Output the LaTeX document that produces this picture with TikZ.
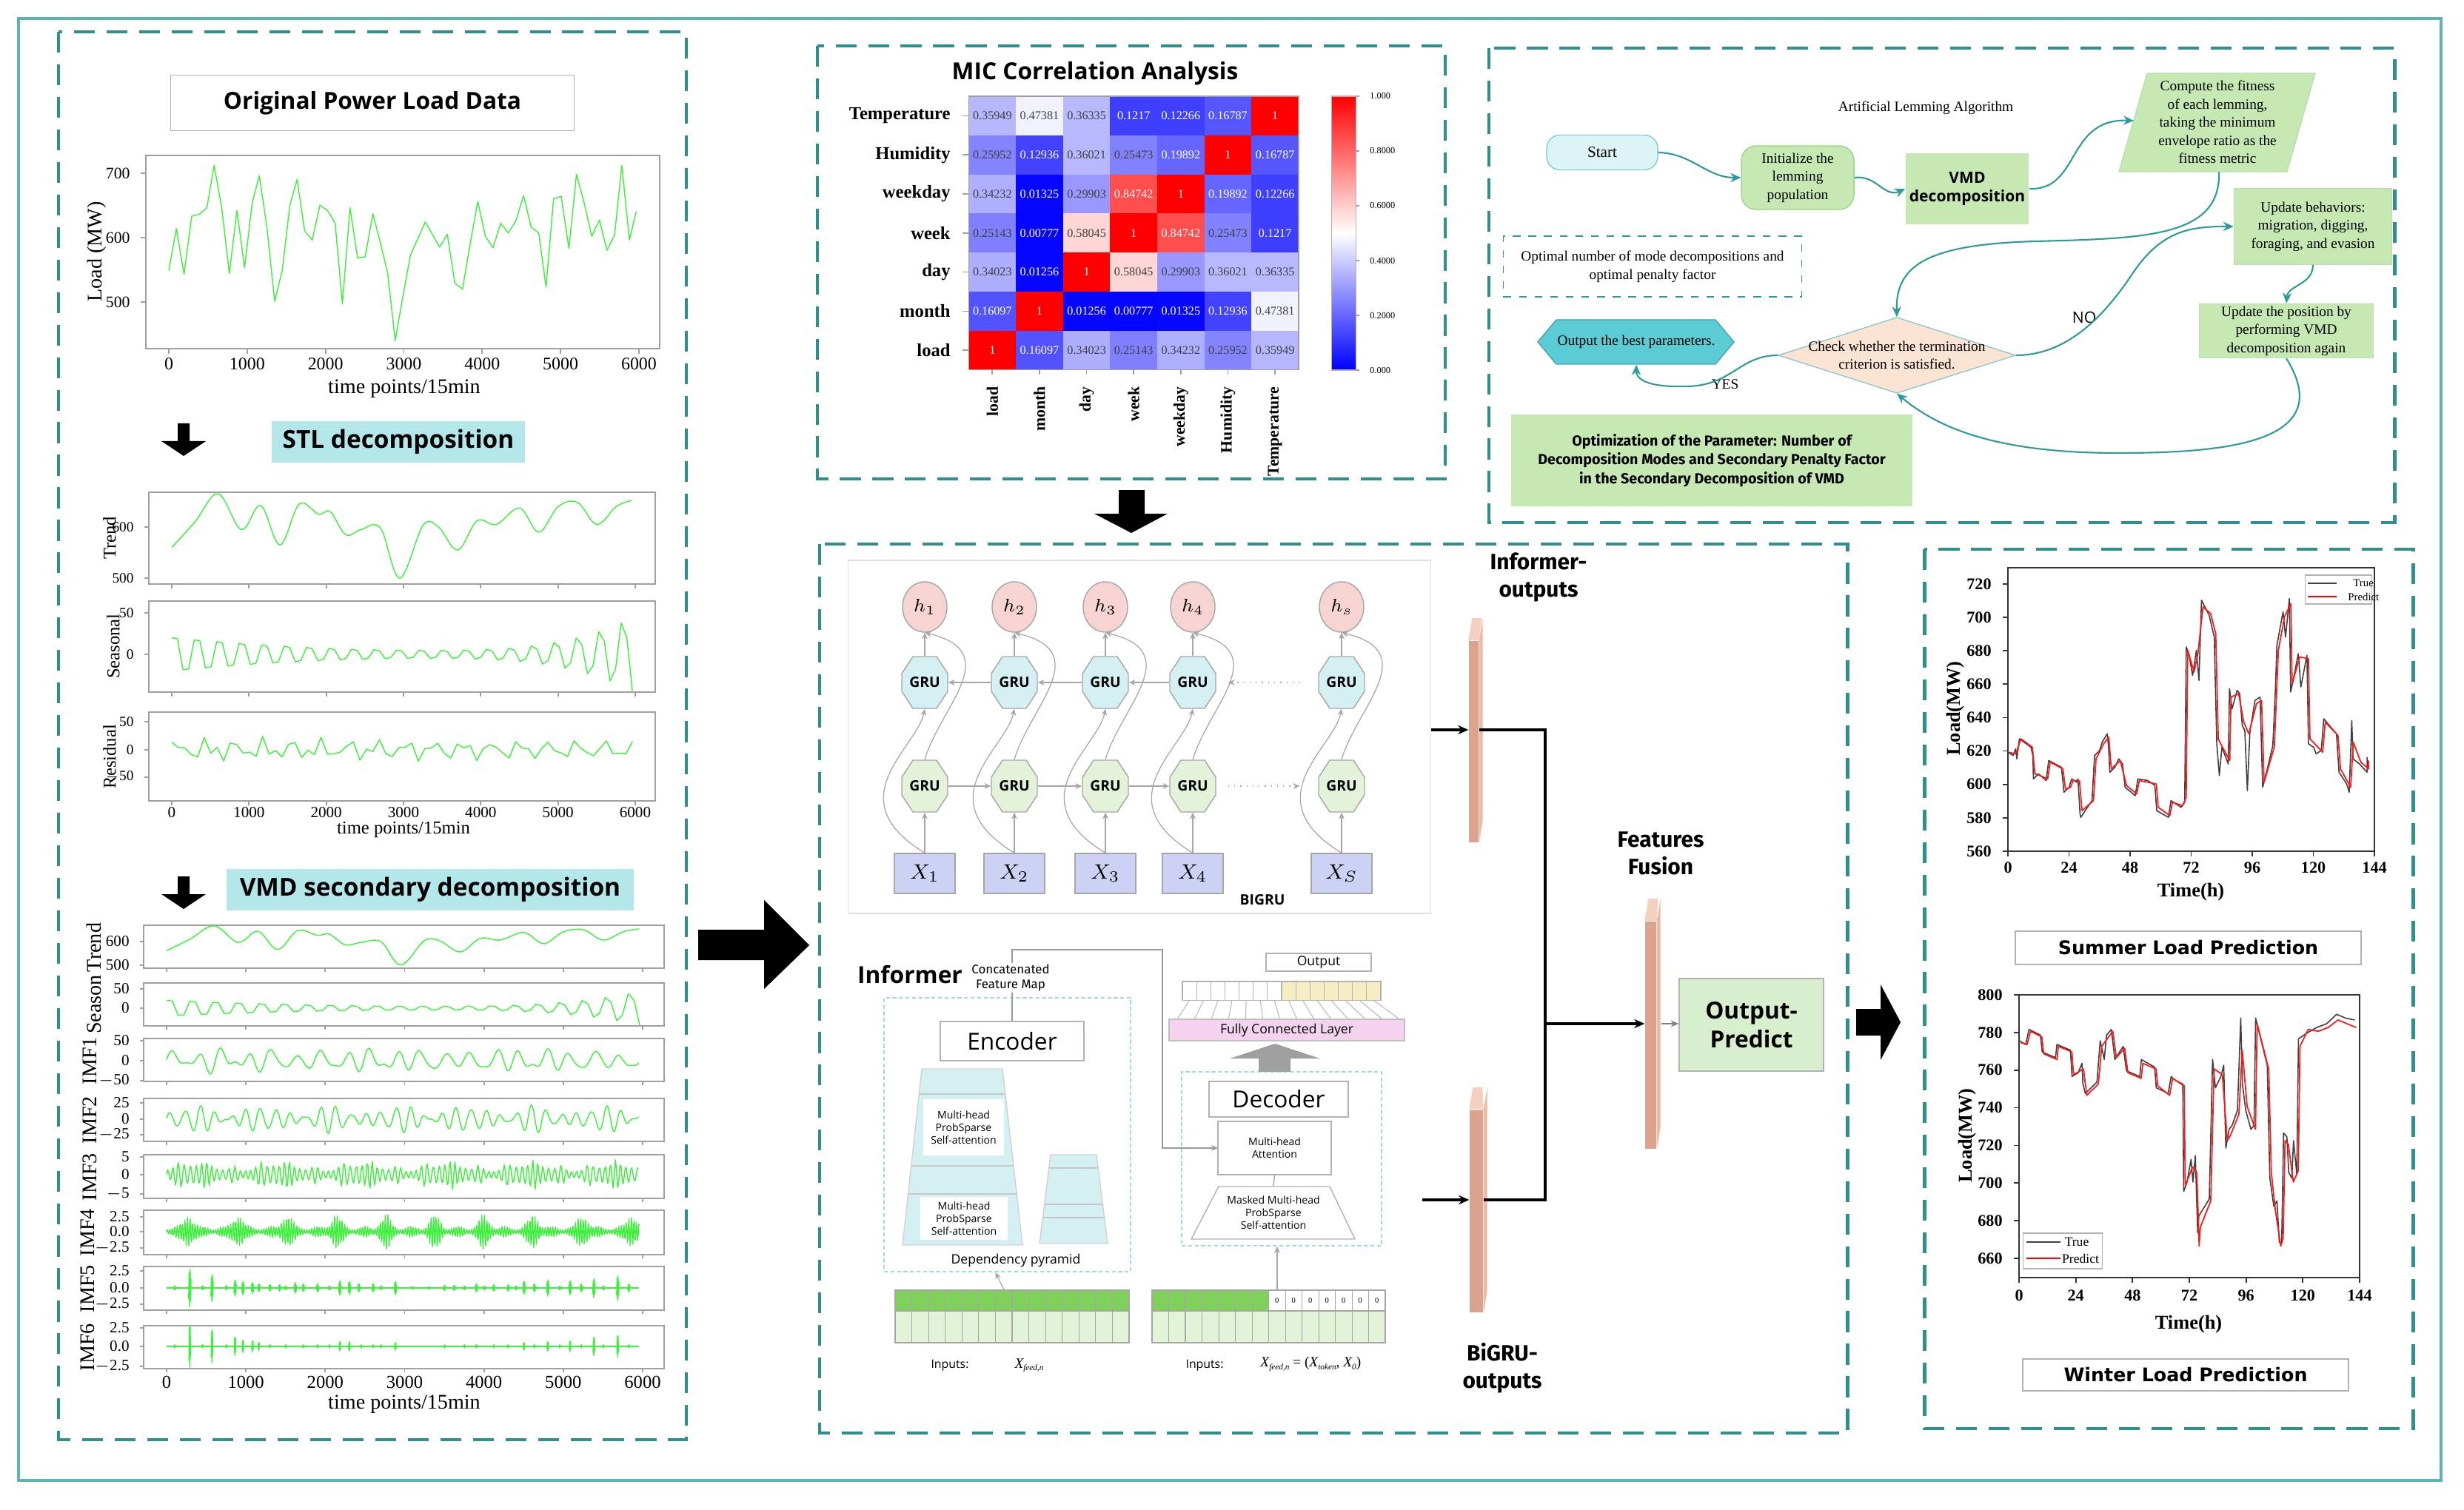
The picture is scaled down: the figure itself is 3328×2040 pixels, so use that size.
\documentclass[tikz,border=0pt]{standalone}
\usepackage{fontspec}
\setmainfont{Liberation Serif}
\setsansfont{Open Sans}
\newfontfamily\firaf{Fira Sans}
\newfontfamily\dejaf{DejaVu Sans}
\usetikzlibrary{arrows.meta,calc,shapes.geometric}
\newcommand\fsz[2]{\fontsize{#1}{#2}\selectfont}
\newcommand\xsub[1]{{\itshape X}\raisebox{-0.35ex}{\fsz{3.2}{3.5}\itshape #1}}
\definecolor{tealD}{HTML}{2E8F8C}
\definecolor{tealL}{HTML}{5DB3B1}
\definecolor{sigG}{HTML}{3CF03C}
\definecolor{cyanB}{HTML}{B3E7EA}
\definecolor{flowT}{HTML}{2F9A9A}
\definecolor{startF}{HTML}{DDF4F6}
\definecolor{startB}{HTML}{86CDD3}
\definecolor{greenF}{HTML}{C6E9B4}
\definecolor{greenD}{HTML}{9CD38A}
\definecolor{hexF}{HTML}{5BCCD3}
\definecolor{diaF}{HTML}{FBE4D4}
\definecolor{pinkF}{HTML}{F6D4D2}
\definecolor{gruC}{HTML}{D5F0F2}
\definecolor{gruG}{HTML}{E3F2D9}
\definecolor{xF}{HTML}{CDD1F4}
\definecolor{barD}{HTML}{DBA38C}
\definecolor{barL}{HTML}{F6D0BE}
\definecolor{barM}{HTML}{EDBBA5}
\definecolor{opF}{HTML}{D7EFCD}
\definecolor{fcF}{HTML}{F5D3EE}
\definecolor{encF}{HTML}{D5F0F3}
\definecolor{gridD}{HTML}{80D05C}
\definecolor{gridL}{HTML}{E3F3D7}
\definecolor{yelF}{HTML}{F7EDC3}
\definecolor{dashC}{HTML}{9ADDE0}
\newcommand\octa[3]{\filldraw[fill=#3,draw=gray!70,line width=0.4pt] (#1-31,#2-12) -- (#1-16,#2-35) -- (#1+16,#2-35) -- (#1+31,#2-12) -- (#1+31,#2+12) -- (#1+16,#2+35) -- (#1-16,#2+35) -- (#1-31,#2+12) -- cycle;}
\newcommand\slab[1]{\fill[barL] (#1.north west) -- ++(5,-30) -- ++(13,0) -- (#1.north east) -- cycle;
  \fill[barM] (#1.north east) -- ++(5,-30) -- ($(#1.south east)+(5,-30)$) -- (#1.south east) -- cycle;}
\newcommand\hrow[3]{%
  \node[rowlab] at (1296,{156.4+52.8*#1}) {#2};
  \draw[frm] (1300,{156.4+52.8*#1}) -- (1308.5,{156.4+52.8*#1});
  \foreach \v [count=\c from 0] in {#3} {%
    \pgfmathsetmacro\pb{max(0,(0.5-\v)*200)}%
    \pgfmathsetmacro\pr{max(0,(\v-0.5)*200)}%
    \ifdim\v pt<0.5pt \edef\cc{blue!\pb!white}\else\edef\cc{red!\pr!white}\fi
    \pgfmathsetmacro\tw{(\v<0.22)+(\v>0.8)}%
    \ifdim\tw pt>0.5pt \def\tc{white}\else\def\tc{black!75}\fi
    \fill[fill=\cc] ({1308.5+63.64*\c},{130+52.8*#1}) rectangle ++(63.64,52.8);
    \node[font=\rmfamily\fsz{4.6}{5},text=\tc] at ({1340.3+63.64*\c},{156.4+52.8*#1}) {\v};
  }}
\begin{document}
\begin{tikzpicture}[x=0.01cm,y=-0.01cm,
  panel/.style={draw=tealD,line width=1.4pt,dash pattern=on 8pt off 4.5pt},
  outerf/.style={draw=tealL,line width=0.9pt},
  sig/.style={draw=sigG,line width=0.4pt,line join=round},
  frm/.style={draw=gray!75,line width=0.5pt},
  ytl/.style={anchor=east,font=\rmfamily\fsz{6.2}{7}},
  xtl/.style={font=\rmfamily\fsz{6.8}{8}},
  ytls/.style={anchor=east,font=\rmfamily\fsz{5.5}{6.5}},
  ylab/.style={rotate=90,font=\rmfamily\fsz{7}{8}},
  titlebox/.style={draw=gray!60,fill=white,font=\sffamily\bfseries\fsz{9}{11}},
  cbox/.style={fill=cyanB,font=\sffamily\bfseries\fsz{9.5}{11}},
  rowlab/.style={anchor=east,font=\rmfamily\bfseries\fsz{7}{8}},
  collab/.style={rotate=90,anchor=east,font=\rmfamily\bfseries\fsz{6.2}{7}},
  flowtxt/.style={font=\rmfamily\fsz{5.5}{7},align=center,inner sep=0pt},
  farr/.style={draw=flowT,line width=0.6pt,-{Stealth[length=4pt,width=3.5pt]}},
  garr/.style={draw=gray!70,line width=0.35pt,-{Stealth[length=2.5pt,width=2.2pt]}},
  grut/.style={minimum width=0.62cm,minimum height=0.70cm,inner sep=0pt,font=\sffamily\bfseries\fsz{5.5}{6}},
  hell/.style={ellipse,draw=gray!70,fill=pinkF,minimum width=0.6cm,minimum height=0.68cm,inner sep=0pt,font=\fsz{7}{8}},
  xbox/.style={draw=gray!70,fill=xF,minimum width=0.82cm,minimum height=0.54cm,inner sep=0pt,font=\fsz{8}{9}},
  barn/.style={fill=barD,inner sep=0pt},
  smallt/.style={font=\sffamily\fsz{4}{4.8},align=center,inner sep=0pt},
  bigt/.style={font=\firaf\bfseries\fsz{8.5}{10.5},align=center},
  axt/.style={font=\rmfamily\bfseries\fsz{6.3}{7}},
  predbox/.style={draw=gray!60,fill=white,font=\dejaf\bfseries\fsz{7.2}{8}}
]
\useasboundingbox (0,0) rectangle (3328,2040);
\fill[white] (0,0) rectangle (3328,2040);

% ---------- frames ----------
\draw[outerf] (25,25) rectangle (3297,2000);
\draw[panel] (79,43) rectangle (927,1945);
\draw[panel] (1104,62) rectangle (1952,647);
\draw[panel] (2011,65) rectangle (3234,706);
\draw[panel] (1107,735) rectangle (2495,1936);
\draw[panel] (2599,742) rectangle (3259,1930);

% ---------- left panel: original data ----------
\node[titlebox,minimum width=5.45cm,minimum height=0.75cm] (opld) at (503,139) {Original Power Load Data};
\draw[frm] (197,210) rectangle (891,471);
\foreach \tv/\ty in {700/234,600/321,500/408}{\draw[frm] (190,\ty)--(197,\ty); \node[ytl] at (188,\ty) {\tv};}
\foreach \k/\tl in {0/0,1/1000,2/2000,3/3000,4/4000,5/5000,6/6000}{\draw[frm] ({228+105.83*\k},471)--({228+105.83*\k},478); \node[xtl] at ({228+105.83*\k},492) {\tl};}
\node[font=\rmfamily\fsz{8}{9}] (xl1) at (546,525) {time points/15min};
\node[ylab,font=\rmfamily\fsz{8}{9}] (yl1) at (131,340) {Load (MW)};
\begin{scope}[shift={(228,843)},x=1.0583cm,y=0.0087cm]
\draw[sig] plot coordinates {(0,549) (0.097,614) (0.194,543) (0.292,633) (0.389,636) (0.486,646) (0.578,712) (0.675,646) (0.772,544) (0.869,642) (0.966,553) (1.064,654) (1.155,696) (1.253,614) (1.35,501) (1.447,549) (1.544,650) (1.636,690) (1.733,610) (1.83,596) (1.927,650) (2.025,642) (2.122,622) (2.214,497) (2.311,646) (2.408,568) (2.505,570) (2.603,637) (2.694,594) (2.791,545) (2.888,440) (2.986,509) (3.083,573) (3.272,624) (3.455,585) (3.552,605) (3.649,529) (3.746,520) (3.844,590) (3.941,656) (4.038,602) (4.135,584) (4.233,622) (4.33,607) (4.427,626) (4.525,665) (4.622,616) (4.719,607) (4.811,523) (4.908,660) (5.005,664) (5.103,583) (5.2,698) (5.297,654) (5.394,602) (5.492,627) (5.589,580) (5.686,604) (5.778,712) (5.875,596) (5.961,640)};
\end{scope}

% STL
\fill (240,572) -- (256,572) -- (256,596) -- (278,596) -- (248,616) -- (218,596) -- (240,596) -- cycle;
\node[cbox,minimum width=3.42cm,minimum height=0.5cm] (stl) at (538,597) {STL decomposition};

\draw[frm] (201,665) rectangle (885,789);
\draw[frm] (201,812) rectangle (885,935);
\draw[frm] (201,962) rectangle (885,1082);
\foreach \k in {0,...,6}{\draw[frm] ({232+104.33*\k},789)--({232+104.33*\k},795);
  \draw[frm] ({232+104.33*\k},935)--({232+104.33*\k},941);
  \draw[frm] ({232+104.33*\k},1082)--({232+104.33*\k},1088);}
\foreach \tv/\ty in {600/712,500/781,50/828,0/884,50/975,0/1013,$-$50/1050}{\draw[frm] (195,\ty)--(201,\ty); \node[ytls] at (193,\ty){\tv};}
\node[ylab] (ylt) at (148,727) {Trend};
\node[ylab] (yls) at (153,873) {Seasonal};
\node[ylab] (ylr) at (148,1022) {Residual};
\foreach \k/\tl in {0/0,1/1000,2/2000,3/3000,4/4000,5/5000,6/6000}{\node[font=\rmfamily\fsz{6}{7}] at ({232+104.33*\k},1098) {\tl};}
\node[font=\rmfamily\fsz{7}{8}] (xl2) at (545,1121) {time points/15min};
\begin{scope}[shift={(232,1126)},x=1.0433cm,y=0.0069cm]
\draw[sig] plot[smooth,tension=0.6] coordinates {(0,560) (0.3,610) (0.6,665) (0.9,595) (1.15,642) (1.4,565) (1.65,645) (1.9,625) (2.05,630) (2.25,585) (2.45,595) (2.7,598) (2.95,500) (3.25,603) (3.45,600) (3.7,555) (3.95,612) (4.2,605) (4.5,637) (4.75,590) (5,640) (5.25,648) (5.5,605) (5.75,640) (5.95,652)};
\end{scope}
\begin{scope}[shift={(232,884)},x=1.0433cm,y=0.0112cm]
\draw[sig] plot[domain=0:5.96,samples=83] (\x,{(6+(\x<3.3)*22*((\x-3.3)/3.3)^2+(\x>3.3)*45*((\x-3.3)/2.7)^3)*sin(1241.4*\x+45)});
\end{scope}
\begin{scope}[shift={(232,1013)},x=1.0433cm,y=0.0075cm]
\draw[sig] plot[domain=0:5.96,samples=72] (\x,{22*sin(1873*\x)+18*sin(2411*\x+40)+12*sin(977*\x+10)});
\end{scope}

% VMD
\fill (240,1184) -- (256,1184) -- (256,1208) -- (278,1208) -- (248,1228) -- (218,1208) -- (240,1208) -- cycle;
\node[cbox,minimum width=5.49cm,minimum height=0.51cm] (vmdb) at (581,1202) {VMD secondary decomposition};
\foreach \ya/\yb in {1250/1308,1328/1386,1403/1461,1484/1542,1560/1619,1635/1695,1711/1770,1791/1849}{
  \draw[frm] (194,\ya) rectangle (897,\yb);
  \foreach \k in {0,...,6}{\draw[frm] ({225+107.17*\k},\yb)--({225+107.17*\k},{\yb+5});}}
\foreach \tv/\ty in {600/1272,500/1304,50/1336,0/1362,50/1406,0/1433,$-$50/1460,25/1490,0/1512,$-$25/1533,5/1563,0/1587,$-$5/1613,2.5/1644,0.0/1664,$-$2.5/1686,2.5/1717,0.0/1740,$-$2.5/1762,2.5/1794,0.0/1819,$-$2.5/1846}{\draw[frm] (189,\ty)--(194,\ty); \node[ytls,font=\rmfamily\fsz{6}{7}] at (187,\ty){\tv};}
\foreach \lab/\ly/\lx in {Trend/1280/127,Season/1357/127,IMF1/1433/121,IMF2/1513/121,IMF3/1590/121,IMF4/1665/118,IMF5/1741/118,IMF6/1820/118}{\node[ylab,font=\rmfamily\fsz{8}{9}] at (\lx,\ly) {\lab};}
\foreach \k/\tl in {0/0,1/1000,2/2000,3/3000,4/4000,5/5000,6/6000}{\node[font=\rmfamily\fsz{7}{8}] at ({225+107.17*\k},1867) {\tl};}
\node[font=\rmfamily\fsz{8}{9}] (xl3) at (546,1897) {time points/15min};
\begin{scope}[shift={(225,1464)},x=1.0717cm,y=0.0032cm]
\draw[sig] plot[smooth,tension=0.6] coordinates {(0,560) (0.3,610) (0.6,665) (0.9,595) (1.15,642) (1.4,565) (1.65,645) (1.9,625) (2.05,630) (2.25,585) (2.45,595) (2.7,598) (2.95,500) (3.25,603) (3.45,600) (3.7,555) (3.95,612) (4.2,605) (4.5,637) (4.75,590) (5,640) (5.25,648) (5.5,605) (5.75,640) (5.95,652)};
\end{scope}
\begin{scope}[shift={(225,1362)},x=1.0717cm,y=0.0052cm]
\draw[sig] plot[domain=0:5.96,samples=83] (\x,{(6+(\x<3.3)*22*((\x-3.3)/3.3)^2+(\x>3.3)*45*((\x-3.3)/2.7)^3)*sin(1241.4*\x+45)});
\end{scope}
\begin{scope}[shift={(225,1433)},x=1.0717cm,y=0.0054cm]
\draw[sig] plot[domain=0:5.95,samples=300] (\x,{18*sin(1150*\x)+14*sin(1730*\x+30)*abs(sin(95*\x+20))+6*sin(610*\x)});
\end{scope}
\begin{scope}[shift={(225,1512)},x=1.0717cm,y=0.0086cm]
\draw[sig] plot[domain=0:5.95,samples=450] (\x,{(5+14*abs(sin(210*\x+15))^2)*sin(1900*\x)+4*sin(2600*\x+20)});
\end{scope}
\begin{scope}[shift={(225,1587)},x=1.0717cm,y=0.05cm]
\draw[sig] plot[domain=0:5.95,samples=430] (\x,{(0.9+1.6*abs(sin(170*\x+30))^2+1.6*abs(sin(523*\x+10))^6)*sin(360*frac(14.37*\x)+50*sin(700*\x))});
\end{scope}
\begin{scope}[shift={(225,1664)},x=1.0717cm,y=0.084cm]
\draw[sig] plot[domain=0:5.95,samples=700] (\x,{(0.3+0.6*abs(sin(613*\x))^2+2.0*abs(sin(290*\x+10))^10)*sin(360*frac(31.3*\x))});
\end{scope}
\begin{scope}[shift={(225,1740)},x=1.0717cm,y=0.09cm]
\draw[sig] (0,0) -- (5.95,0);
\foreach \p/\a in {0.29/2.8,0.57/2.0,0.86/1.2,0.96/1.0,1.08/0.8,1.16/0.6,1.3/0.5,1.42/0.5,1.62/0.8,1.72/0.6,1.9/0.6,2.18/1.1,2.3/1.0,2.42/0.6,2.6/0.6,2.88/1.0,3.5/0.4,3.62/0.4,3.9/0.6,4.12/0.5,4.3/0.5,4.5/1.0,4.63/0.6,4.8/1.2,5.08/1.1,5.22/0.6,5.38/1.4,5.68/1.8,5.82/0.6,0.1/0.3,0.45/0.3,0.75/0.3,1.5/0.3,2.05/0.3,2.7/0.3,3.1/0.2,3.3/0.2,3.75/0.3,4.0/0.3,4.4/0.3,4.95/0.3,5.5/0.3}{
  \draw[sig] (\p-0.012,-0.6*\a) -- (\p-0.006,0.8*\a) -- (\p,-\a) -- (\p+0.006,\a) -- (\p+0.012,-0.7*\a) -- (\p+0.018,0.5*\a);}
\end{scope}
\begin{scope}[shift={(225,1819)},x=1.0717cm,y=0.104cm]
\draw[sig] (0,0) -- (5.95,0);
\foreach \p/\a in {0.29/2.7,0.57/2.1,0.86/1.2,0.96/0.8,1.08/0.7,1.16/0.5,2.18/0.6,2.3/0.6,2.88/0.5,4.5/0.5,4.8/0.6,5.08/0.7,5.38/1.2,5.68/1.4,0.1/0.2,0.45/0.2,0.75/0.2,1.3/0.2,1.5/0.2,1.72/0.2,1.9/0.2,2.05/0.2,2.45/0.2,2.6/0.2,2.7/0.2,3.5/0.2,3.75/0.2,3.9/0.2,4.12/0.2,4.3/0.2,4.63/0.2,4.95/0.2,5.22/0.2,5.5/0.2,5.82/0.2}{
  \draw[sig] (\p-0.008,-0.7*\a) -- (\p-0.003,0.9*\a) -- (\p+0.002,-\a) -- (\p+0.007,\a) -- (\p+0.012,-0.5*\a);}
\end{scope}

% ---------- MIC heatmap ----------
\node[font=\sffamily\bfseries\fsz{9}{10}] (mict) at (1479,99) {MIC Correlation Analysis};
\hrow{0}{Temperature}{0.35949,0.47381,0.36335,0.1217,0.12266,0.16787,1}
\hrow{1}{Humidity}{0.25952,0.12936,0.36021,0.25473,0.19892,1,0.16787}
\hrow{2}{weekday}{0.34232,0.01325,0.29903,0.84742,1,0.19892,0.12266}
\hrow{3}{week}{0.25143,0.00777,0.58045,1,0.84742,0.25473,0.1217}
\hrow{4}{day}{0.34023,0.01256,1,0.58045,0.29903,0.36021,0.36335}
\hrow{5}{month}{0.16097,1,0.01256,0.00777,0.01325,0.12936,0.47381}
\hrow{6}{load}{1,0.16097,0.34023,0.25143,0.34232,0.25952,0.35949}
\draw[frm] (1308.5,130) rectangle (1754,499.5);
\foreach \lab [count=\c from 0] in {load,month,day,week,weekday,Humidity,Temperature}{
  \draw[frm] ({1340.3+63.64*\c},499.5) -- ({1340.3+63.64*\c},506);
  \node[collab] at ({1340.3+63.64*\c},510) {\lab};}
\shade[top color=red,bottom color=blue,middle color=white] (1798,130) rectangle (1831,500);
\draw[gray!60,line width=0.3pt] (1798,130) rectangle (1831,500);
\foreach \cl/\cy in {1.000/130,0.8000/204,0.6000/278,0.4000/352,0.2000/426,0.000/500}{\draw[frm] (1831,\cy)--(1836,\cy); \node[anchor=west,font=\rmfamily\fsz{3.5}{4}] at (1838,\cy){\cl};}

% ---------- flowchart ----------
\node[font=\rmfamily\fsz{5.5}{6}] (ala) at (2601,146) {Artificial Lemming Algorithm};
\node[draw=startB,fill=startF,rounded corners=0.18cm,minimum width=1.5cm,minimum height=0.47cm,font=\rmfamily\fsz{6}{7}] (start) at (2164,206) {Start};
\node[draw=greenD,fill=greenF,rounded corners=0.2cm,minimum width=1.52cm,minimum height=0.86cm,flowtxt] (init) at (2428,240) {Initialize the\\lemming\\population};
\node[fill=greenF,minimum width=1.66cm,minimum height=0.95cm,font=\sffamily\bfseries\fsz{6}{7.2},align=center,inner sep=0pt] (vmd) at (2657,255) {VMD\\decomposition};
\filldraw[fill=greenF,draw=greenD!70] (2862,232) -- (2900,99) -- (3127,99) -- (3089,232) -- cycle;
\node[flowtxt] (comp) at (2995,165) {Compute the fitness\\of each lemming,\\taking the minimum\\envelope ratio as the\\fitness metric};
\coordinate (compL) at (2882,163);
\coordinate (compB) at (2997,232);
\node[fill=greenF,draw=greenD!70,minimum width=2.13cm,minimum height=1.02cm,flowtxt] (upd) at (3124,306) {Update behaviors:\\migration, digging,\\foraging, and evasion};
\node[fill=greenF,draw=greenD!70,minimum width=2.35cm,minimum height=0.73cm,flowtxt] (pos) at (3088,447) {Update the position by\\performing VMD\\decomposition again};
\node[draw=flowT,dashed,line width=0.4pt,minimum width=4.03cm,minimum height=0.82cm,flowtxt] (optn) at (2232,360) {Optimal number of mode decompositions and\\optimal penalty factor};
\filldraw[fill=hexF,draw=hexF!80!black] (2077,462) -- (2102,432) -- (2317,432) -- (2342,462) -- (2317,492) -- (2102,492) -- cycle;
\node[flowtxt,minimum width=2.65cm,minimum height=0.6cm] (best) at (2210,462) {Output the best parameters.};
\filldraw[fill=diaF,draw=tealL!70] (2402,480) -- (2562,429) -- (2722,480) -- (2562,531) -- cycle;
\node[flowtxt,minimum width=3.2cm,minimum height=1.02cm] (dia) at (2562,480) {Check whether the termination\\criterion is satisfied.};
\node[fill=greenF,minimum width=5.42cm,minimum height=1.24cm,font=\firaf\bfseries\fsz{5.6}{7.2},align=center] (optbox) at (2312,622) {Optimization of the Parameter: Number of\\Decomposition Modes and Secondary Penalty Factor\\in the Secondary Decomposition of VMD};
\node[font=\sffamily\fsz{6}{7}] (nolab) at (2815,429) {NO};
\node[font=\rmfamily\fsz{5.5}{6}] (yeslab) at (2330,519) {YES};
\draw[farr] (start.east) .. controls (2285,207) and (2305,240) .. (init.west);
\draw[farr] (init.east) .. controls (2535,236) and (2545,268) .. (vmd.west);
\draw[farr] (vmd.east) .. controls (2810,258) and (2790,160) .. (compL);
\draw[farr] (compB) .. controls (3000,320) and (2900,322) .. (2750,326) .. controls (2600,330) and (2560,360) .. (dia.north);
\draw[farr] (dia.east) .. controls (2790,480) and (2840,430) .. (2880,370) .. controls (2920,310) and (2960,306) .. (upd.west);
\draw[farr] (upd.south) .. controls (3124,385) and (3090,385) .. (pos.north);
\draw[farr] (pos.south) .. controls (3160,600) and (3000,612) .. (2860,612) .. controls (2700,612) and (2620,580) .. (dia.south);
\draw[farr] (dia.west) .. controls (2350,480) and (2340,520) .. (2280,522) .. controls (2220,524) and (2210,510) .. (best.south);

% ---------- big arrows ----------
\fill (1511,662) -- (1546,662) -- (1546,694) -- (1577,694) -- (1528,720) -- (1478,694) -- (1511,694) -- cycle;
\fill (943,1256) -- (1032,1256) -- (1032,1216) -- (1093,1277) -- (1032,1336) -- (1032,1297) -- (943,1297) -- cycle;
\fill (2507,1363) -- (2540,1363) -- (2540,1330) -- (2567,1381) -- (2540,1432) -- (2540,1399) -- (2507,1399) -- cycle;

% ---------- BiGRU ----------
\node[draw=gray!25,minimum width=7.86cm,minimum height=4.77cm] (bgbox) at (1539,995.5) {};
\foreach \i/\cx/\lab/\xl in {1/1249/1/1,2/1370/2/2,3/1493/3/3,4/1611/4/4,s/1812/s/S}{
  \octa{\cx}{922}{gruC}
  \octa{\cx}{1062}{gruG}
  \node[grut] (gt\i) at (\cx,922) {GRU};
  \node[grut] (gb\i) at (\cx,1062) {GRU};
  \node[hell] (h\i) at (\cx,820) {$h_{\lab}$};
  \node[xbox] (x\i) at (\cx,1180) {$X_{\xl}$};
  \draw[garr] (x\i.north) -- (gb\i.south);
  \draw[garr] (gt\i.north) -- (h\i.south);
  \draw[garr] (x\i.north) .. controls +(-120,-73) and +(-10,52) .. (gt\i.south);
  \draw[garr] (gb\i.north) .. controls +(20,-70) and +(110,26) .. (h\i.south);
}
\draw[garr] (gt2.west) -- (gt1.east);
\draw[garr] (gt3.west) -- (gt2.east);
\draw[garr] (gt4.west) -- (gt3.east);
\draw[garr] (gb1.east) -- (gb2.west);
\draw[garr] (gb2.east) -- (gb3.west);
\draw[garr] (gb3.east) -- (gb4.west);
\draw[garr,dotted,line width=0.6pt] ($(gts.west)+(-25,0)$) -- ($(gt4.east)+(16,0)$);
\draw[garr,dotted,line width=0.6pt] ($(gb4.east)+(16,0)$) -- ($(gbs.west)+(-25,0)$);
\node[font=\sffamily\bfseries\fsz{5.5}{6}] (bglab) at (1705,1216) {BIGRU};

% ---------- bars / fusion ----------
\node[bigt] (iolab) at (2078,780) {Informer-\\outputs};
\node[barn,minimum width=0.13cm,minimum height=2.72cm] (ibar) at (1990.5,1002) {};
\slab{ibar}
\node[barn,minimum width=0.18cm,minimum height=2.73cm] (bbar) at (1994,1636.5) {};
\slab{bbar}
\node[barn,minimum width=0.15cm,minimum height=3.07cm] (fbar) at (2229.5,1398.5) {};
\slab{fbar}
\node[bigt] (fflab) at (2243,1153) {Features\\Fusion};
\node[bigt] (bolab) at (2029,1848) {BiGRU-\\outputs};
\node[draw=gray!60,fill=opF,minimum width=1.95cm,minimum height=1.25cm,font=\sffamily\bfseries\fsz{9}{11},align=center] (outp) at (2365.5,1384.5) {Output-\\Predict};
\coordinate (jI) at (2087,986);
\coordinate (jB) at (2087,1621);
\coordinate (jF) at (2087,1383);
\coordinate (bIn) at (1921,1621);
\draw[line width=0.9pt,-{Stealth[length=4pt,width=3.5pt]}] (bgbox.east |- jI) -- (ibar.west |- jI);
\draw[line width=0.9pt] (ibar.east |- jI) -- (jI) -- (jB) -- (bbar.east |- jB);
\draw[line width=0.9pt,-{Stealth[length=4pt,width=3.5pt]}] (bIn) -- (bbar.west |- bIn);
\draw[line width=0.9pt,-{Stealth[length=4pt,width=3.5pt]}] (jF) -- (fbar.west |- jF);
\draw[gray,line width=0.6pt,-{Stealth[length=3pt,width=2.5pt]}] ($(fbar.east |- jF)+(6,0)$) -- (outp.west |- jF);

% ---------- Informer ----------
\coordinate (cm1) at (1570,1283);
\node[font=\sffamily\bfseries\fsz{9}{10}] (inf) at (1229,1317) {Informer};
\node[draw=dashC,dash pattern=on 1.5pt off 1pt,line width=0.5pt,minimum width=3.33cm,minimum height=3.70cm] (encd) at (1360.5,1533) {};
\node[draw=gray!60,fill=white,minimum width=1.94cm,minimum height=0.53cm,font=\sffamily\fsz{9}{10}] (enc) at (1367,1406.5) {Encoder};
\draw[gray!80,line width=0.5pt,-{Stealth[length=2.5pt,width=2.2pt]}] (enc.north) -- (enc.north |- cm1) -- (cm1) -- (cm1 |- 0,1551) -- (1645,1551);
\node[fill=white,font=\firaf\fsz{4.8}{5.8},align=center,inner sep=0.5pt] (cfm) at (1365,1321) {Concatenated\\Feature Map};
\filldraw[fill=encF,draw=gray!35] (1219,1682) -- (1245,1444) -- (1354,1444) -- (1381,1682) -- cycle;
\draw[gray!45,line width=0.8pt] (1241.3,1478) -- (1357.9,1478) (1230.7,1575) -- (1368.9,1575) (1226.5,1613) -- (1373.2,1613);
\fill[white] (1247,1485) rectangle (1356,1561);
\fill[white] (1243,1617) rectangle (1361,1675);
\node[smallt] (mh1) at (1301.5,1523) {Multi-head\\ProbSparse\\Self-attention};
\node[smallt] (mh2) at (1302,1646) {Multi-head\\ProbSparse\\Self-attention};
\filldraw[fill=encF,draw=gray!35] (1404,1680) -- (1419,1560) -- (1481,1560) -- (1496,1680) -- cycle;
\draw[gray!45,line width=0.8pt] (1416.8,1578) -- (1483.2,1578) (1410.6,1627) -- (1489.4,1627) (1408.4,1645) -- (1491.6,1645);
\node[font=\sffamily\fsz{5}{6}] (dep) at (1372,1703) {Dependency pyramid};
\node[minimum width=3.16cm,minimum height=0.71cm,inner sep=0pt] (encin) at (1367,1778.5) {};
\fill[gridD] (1209,1743) rectangle (1525,1771);
\fill[gridL] (1209,1771) rectangle (1525,1814);
\foreach \k in {0,...,14}{\draw[gray!70,line width=0.3pt] ({1209+22.571*\k},1743) -- ({1209+22.571*\k},1814);}
\draw[gray!70,line width=0.4pt] (1209,1743) rectangle (1525,1814) (1209,1771) -- (1525,1771);
\draw[garr] ($(encin.north)+(-11,0)$) -- ($(encd.south)+(-16,0)$);
\node[font=\sffamily\fsz{4.5}{5}] (inp1) at (1283,1845) {Inputs:};
\node[font=\rmfamily\fsz{5.5}{6}] (xf1) at (1390,1845) {\xsub{feed,n}};
% decoder
\node[draw=dashC,dash pattern=on 1.5pt off 1pt,line width=0.5pt,minimum width=2.70cm,minimum height=2.35cm] (decd) at (1731,1565.5) {};
\node[draw=gray!60,fill=white,minimum width=1.88cm,minimum height=0.42cm,font=\sffamily\fsz{9}{10}] (dec) at (1727,1485) {Decoder};
\node[draw=gray!60,fill=white,minimum width=1.53cm,minimum height=0.72cm,smallt] (mha) at (1721.5,1551) {Multi-head\\Attention};
\filldraw[fill=white,draw=gray!60] (1646,1603) -- (1796,1603) -- (1830,1674) -- (1609,1674) -- cycle;
\node[smallt,minimum width=1.5cm,minimum height=0.71cm] (mmh) at (1720,1638.5) {Masked Multi-head\\ProbSparse\\Self-attention};
\draw[gray!70,line width=0.4pt] (mha.south) -- (mmh.north);
\node[minimum width=3.15cm,minimum height=0.71cm,inner sep=0pt] (decin) at (1713.5,1778.5) {};
\fill[gridD] (1556,1743) rectangle (1713.5,1771);
\fill[gridL] (1556,1771) rectangle (1871,1814);
\foreach \k in {7,...,13}{\node[font=\rmfamily\fsz{3}{3.5}] at ({1556+22.5*\k+11.25},1757) {0};}
\foreach \k in {0,...,14}{\draw[gray!70,line width=0.3pt] ({1556+22.5*\k},1743) -- ({1556+22.5*\k},1814);}
\draw[gray!70,line width=0.4pt] (1556,1743) rectangle (1871,1814) (1556,1771) -- (1871,1771);
\draw[garr] ($(decin.north)+(11.5,0)$) -- ($(decd.south)+(-6,0)$);
\node[font=\sffamily\fsz{4.5}{5}] (inp2) at (1627,1845) {Inputs:};
\node[anchor=west,font=\rmfamily\fsz{5.5}{6}] (xf2) at (1690,1843) {\xsub{feed,n} = (\xsub{token}, \xsub{0})};
\fill[gray!75] (1700,1448) -- (1700,1430) -- (1661,1430) -- (1722,1410) -- (1783,1430) -- (1743,1430) -- (1743,1448) -- cycle;
\node[draw=gray!50,fill=fcF,minimum width=3.18cm,minimum height=0.29cm,font=\sffamily\fsz{5}{6},inner sep=0pt] (fc) at (1738,1391.5) {Fully Connected Layer};
\foreach \k in {0,...,13}{\draw[gray!55,line width=0.3pt] ({1597+19.14*(\k+0.5)},1351.5) -- ({1590+23.1*\k},1377);}
\fill[yelF] (1731,1326) rectangle (1865,1351.5);
\foreach \k in {0,...,14}{\draw[gray!60,line width=0.3pt] ({1597+19.14*\k},1326) -- ({1597+19.14*\k},1351.5);}
\draw[gray!60,line width=0.3pt] (1597,1326) rectangle (1865,1351.5);
\node[draw=gray!60,minimum width=1.42cm,minimum height=0.24cm,font=\sffamily\fsz{5}{6},inner sep=0pt] (outn) at (1781,1300) {Output};

% ---------- right panel: summer ----------
\draw[black!80,line width=0.5pt] (2712,767) rectangle (3207,1150);
\foreach \tv in {560,580,...,720}{\draw[black!80,line width=0.5pt] (2705,{789+(720-\tv)*2.256}) -- (2712,{789+(720-\tv)*2.256}); \node[axt,anchor=east] at (2702,{789+(720-\tv)*2.256}) {\tv};}
\foreach \th in {0,24,...,144}{\draw[black!80,line width=0.5pt] ({2712+\th*3.4375},1150) -- ({2712+\th*3.4375},1157); \node[axt] at ({2712+\th*3.4375},1172) {\th};}
\node[axt,font=\rmfamily\bfseries\fsz{7.5}{8}] (sxl) at (2959,1205) {Time(h)};
\node[axt,rotate=90,font=\rmfamily\bfseries\fsz{7.5}{8}] (syl) at (2641,957) {Load(MW)};
\begin{scope}[shift={(2712,2413)},x=0.034375cm,y=0.02256cm]
\draw[black!75,line width=0.45pt,line join=round] plot coordinates {(0,619) (2,617) (3,621) (3.5,615) (4.5,627) (9,622) (9.8,617) (10,603) (12,606) (15,602) (16,614) (21,610) (22,595) (24,598) (25,603) (27,601) (27.5,603) (28.3,582) (28.6,580) (33,590) (34,617) (36,620) (37,625) (39,630) (39.5,622) (40,607) (42,610) (43.5,615) (45,612) (46,598) (50,593) (51,603) (55,602) (57.7,599) (58.4,584) (63,580) (64,590) (66,588) (68,586) (69.4,589) (70,682) (71,678) (72.5,665) (74,680) (75,662) (76,710) (79,701) (81,688) (82,624) (83,605) (84,622) (86.5,612) (87,657) (88,645) (90,656) (91,654) (92,635) (93,632) (94,596) (95,631) (97,650) (99,652) (100,598) (102,610) (104,623) (105,656) (105.6,683) (108,703) (109,688) (110.5,711) (111,655) (112,662) (114,678) (115,658) (117.4,677) (118,624) (120,622) (121,618) (123,620) (124,639) (129,630) (130,607) (133,600) (134,595) (135,638) (135.5,615) (138,612) (141,607) (141,616)};
\draw[red!90,line width=0.5pt,line join=round,xshift=0.02cm] plot coordinates {(0,619) (2,618) (3,620) (4.5,627) (9,622) (10,606) (12,605) (15,603) (16,613) (21,609) (22,597) (24,598) (25,602) (27.5,602) (28.5,584) (33,590) (34,615) (37,624) (39,628) (40,609) (43.5,614) (46,599) (50,594) (51,602) (57.7,600) (58.4,586) (63,581) (64,589) (68,587) (69.4,592) (70,680) (72.5,667) (74,678) (76,706) (79,702) (81,690) (82,627) (84,621) (86.5,614) (87,652) (90,654) (92,637) (94,630) (97,648) (99,650) (100,601) (104,622) (105.6,680) (108,700) (110.5,708) (111,660) (114,676) (117.4,675) (118,627) (123,619) (124,637) (129,629) (130,609) (134,598) (135,625) (138,613) (141,609) (141,614)};
\end{scope}
\draw[gray!60,line width=0.3pt] (3113,777) rectangle (3203,816);
\draw[black!75,line width=0.45pt] (3117,788) -- (3156,788);
\draw[red,line width=0.5pt] (3117,806) -- (3156,806);
\node[anchor=west,font=\rmfamily\fsz{4.2}{5}] (slt) at (3166,788) {True};
\node[anchor=west,font=\rmfamily\fsz{4.2}{5}] (slp) at (3159,806) {Predict};
\node[predbox,minimum width=4.67cm,minimum height=0.45cm] (sbox) at (2955.5,1280.5) {Summer Load Prediction};

% ---------- winter ----------
\draw[black!80,line width=0.5pt] (2727,1344) rectangle (3187,1726);
\foreach \tv in {660,680,...,800}{\draw[black!80,line width=0.5pt] (2720,{1344+(800-\tv)*2.543}) -- (2727,{1344+(800-\tv)*2.543}); \node[axt,anchor=east] at (2717,{1344+(800-\tv)*2.543}) {\tv};}
\foreach \th in {0,24,...,144}{\draw[black!80,line width=0.5pt] ({2727+\th*3.194},1726) -- ({2727+\th*3.194},1733); \node[axt] at ({2727+\th*3.194},1750) {\th};}
\node[axt,font=\rmfamily\bfseries\fsz{7.5}{8}] (wxl) at (2956,1789) {Time(h)};
\node[axt,rotate=90,font=\rmfamily\bfseries\fsz{7.5}{8}] (wyl) at (2657,1534) {Load(MW)};
\begin{scope}[shift={(2727,3378.4)},x=0.03194cm,y=0.02543cm]
\draw[black!75,line width=0.45pt,line join=round] plot coordinates {(0,775) (2.8,773) (4.2,781) (9,778) (9.8,769) (15.4,766) (16,773) (21.7,770) (22.4,756) (25,758) (26.6,763) (27,752) (28,747) (32.9,753) (34.3,775) (36,765) (37,778) (39,781) (40.5,765) (44,772) (45.4,759) (51,756) (51.7,765) (57.3,761) (58,750) (63,747) (64.3,756) (66,754) (69.2,752) (69.6,695) (71,700) (72.7,712) (73.5,700) (74.5,714) (75.5,673) (76,682) (80.4,691) (81.8,765) (83,750) (85.3,756) (86.5,762) (87.4,718) (88.8,728) (90,730) (92.3,738) (93.7,787) (94.4,752) (95.8,738) (98,728) (99.3,730) (100,787) (104.9,762) (106,702) (107.7,687) (109,690) (110,668) (111,668) (111.8,726) (113.2,724) (114,705) (115.3,702) (116,722) (117.4,704) (118.1,776) (121.6,779) (125.8,782) (130,784) (134.2,789) (138,787) (141.9,786)};
\draw[red!90,line width=0.5pt,line join=round,xshift=0.02cm] plot coordinates {(0,774) (2.8,773) (4.2,780) (9,777) (9.8,768) (15.4,765) (16,772) (21.7,769) (22.4,757) (26.6,760) (28,746) (32.9,752) (34.3,772) (39,780) (40.5,766) (44,771) (45.4,758) (51,755) (51.7,763) (57.3,760) (58,751) (63,746) (64.3,755) (69.2,751) (69.6,698) (72.7,708) (74.5,705) (75.5,666) (76,676) (80.4,690) (81.8,760) (85.3,757) (87.4,722) (88.8,725) (92.3,736) (93.7,770) (95.8,740) (99.3,728) (100,784) (104.9,760) (106,705) (107.7,685) (110,666) (111,670) (111.8,722) (113.2,720) (115.3,700) (117.4,706) (118.1,772) (121.6,781) (125.8,780) (130,782) (134.2,786) (138,784) (141.9,782)};
\end{scope}
\draw[gray!60,line width=0.3pt] (2732,1666) rectangle (2839,1714);
\draw[black!75,line width=0.45pt] (2737,1678) -- (2783,1678);
\draw[red,line width=0.5pt] (2737,1700) -- (2783,1700);
\node[font=\rmfamily\fsz{5}{6}] (wlt) at (2805,1678) {True};
\node[font=\rmfamily\fsz{5}{6}] (wlp) at (2810,1700) {Predict};
\node[predbox,minimum width=4.4cm,minimum height=0.43cm] (wbox) at (2952,1857.5) {Winter Load Prediction};
\end{tikzpicture}
\end{document}
